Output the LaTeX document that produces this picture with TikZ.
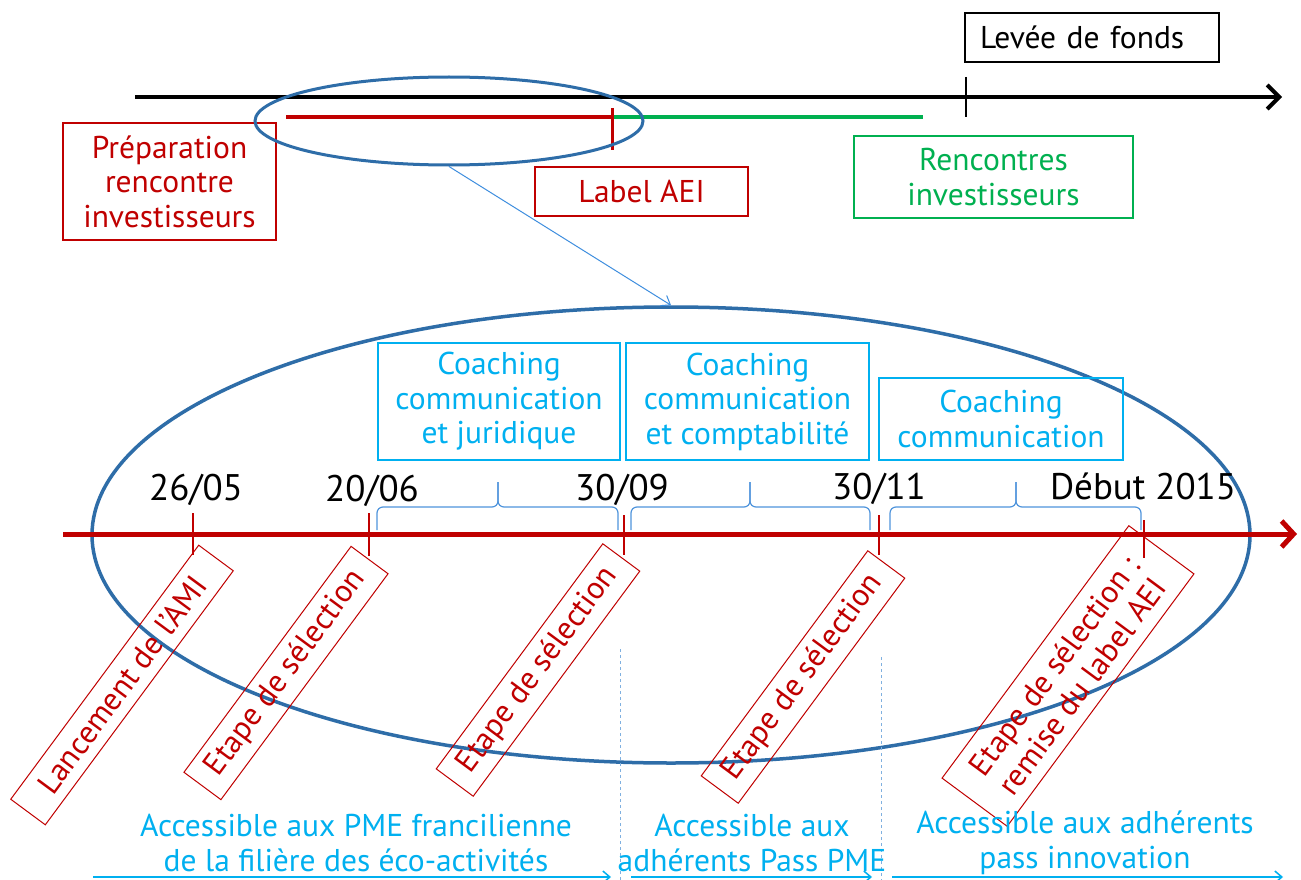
\documentclass[tikz,border=0pt]{standalone}
\usepackage{fontspec}
\setmainfont{PT Sans}
\usetikzlibrary{arrows.meta,shapes.geometric}
\definecolor{cred}{HTML}{C00000}
\definecolor{cgreen}{HTML}{00B050}
\definecolor{ccyan}{HTML}{00B0F0}
\definecolor{cblue}{HTML}{2E6DA8}
\definecolor{cbrace}{HTML}{4F94DC}
\definecolor{cpoint}{HTML}{3C8DDE}
\definecolor{cdash}{HTML}{7FB0E0}
\newcommand{\txtfont}{\fontsize{31.5}{34.5}\selectfont}
\newcommand{\datefont}{\fontsize{37}{40}\selectfont}
\newcommand{\mybrc}[3]{%
  \draw[bracestyle] (#1,530) |- (#2,507) -- (#2,482);
  \draw[bracestyle] (#3,530) |- (#2,507) -- (#2,482);}
\tikzset{
  boxred/.style={draw=cred, line width=1.2pt, text=cred, font=\txtfont, align=center, inner sep=0pt},
  boxgreen/.style={draw=cgreen, line width=1.2pt, text=cgreen, font=\txtfont, align=center, inner sep=0pt},
  boxcyan/.style={draw=ccyan, line width=1.2pt, text=ccyan, font=\txtfont, align=center, inner sep=0pt},
  rotbox/.style={draw=cred, line width=1pt, text=cred, font=\txtfont, align=center, inner sep=0pt, rotate=53.5},
  datelbl/.style={font=\datefont, anchor=base, inner sep=0pt},
  bottxt/.style={text=ccyan, font=\txtfont, align=center, inner sep=0pt},
  bracestyle/.style={draw=cbrace, line width=1.2pt, rounded corners=6pt},
  redtick/.style={draw=cred, line width=1.5pt},
  cyanarrow/.style={draw=ccyan, line width=1.5pt, -{Straight Barb[length=7pt,width=12pt,line width=1.5pt]}},
  dashline/.style={draw=cdash, line width=0.8pt, dashed},
  ell/.style={ellipse, draw=cblue, line width=3pt, inner sep=0pt}
}
\begin{document}
\begin{tikzpicture}[x=1pt,y=-1pt]
\useasboundingbox[fill=white] (0,0) rectangle (1301,880);

% ---------- top timeline ----------
\coordinate (bs) at (135,97);
\coordinate (be) at (1282,97);
\draw[line width=4pt, -{Straight Barb[length=12pt,width=24pt,line width=4pt]}] (bs) -- (be);
\coordinate (lt1) at (966,77);
\coordinate (lt2) at (966,117);
\draw[line width=1.5pt] (lt1) -- (lt2);

\node[draw=black, line width=1.5pt, font=\txtfont, text width=224pt, align=left,
      inner xsep=15pt, inner ysep=0pt, minimum height=49pt] (levee) at (1092,37.5) {Levée de fonds};

\coordinate (rs) at (286,117);
\coordinate (rm) at (612,117);
\coordinate (ge) at (923,117);
\draw[cred, line width=3.5pt] (rs) -- (rm);
\draw[cgreen, line width=3.5pt] (rm) -- (ge);
\coordinate (rt1) at (612,108);
\coordinate (rt2) at (612,150);
\draw[cred, line width=3pt] (rt1) -- (rt2);

\node[boxred, minimum width=213pt, minimum height=117pt] (prep) at (169.5,181.5) {Préparation\\rencontre\\investisseurs};
\node[boxred, minimum width=213pt, minimum height=49pt] (aei) at (641.5,191.5) {Label AEI};
\node[boxgreen, minimum width=279pt, minimum height=82pt] (renc) at (993.5,177) {Rencontres\\investisseurs};

\node[ell, minimum width=388pt, minimum height=88pt] (small) at (449,121) {};
\node[ell, line width=3.5pt, minimum width=1158pt, minimum height=456pt] (big) at (671,535) {};
\draw[cpoint, line width=1pt, -{Straight Barb[length=8pt,width=12pt,line width=1pt]}] (small.south) -- (big.north);

% ---------- coaching boxes ----------
\node[boxcyan, minimum width=242pt, minimum height=117pt] (c1) at (499,401.5) {Coaching\\communication\\et juridique};
\node[boxcyan, minimum width=243pt, minimum height=117pt] (c2) at (747.5,401.5) {Coaching\\communication\\et comptabilité};
\node[boxcyan, minimum width=244pt, minimum height=82pt] (c3) at (1001,419) {Coaching\\communication};

% ---------- braces ----------
\mybrc{377}{498}{618}
\mybrc{631}{750}{870}
\mybrc{890}{1016}{1141}

% ---------- main red axis ----------
\coordinate (as) at (63,534);
\coordinate (ae) at (1297,534);
\draw[cred, line width=5pt, -{Straight Barb[length=12pt,width=26pt,line width=5pt]}] (as) -- (ae);

\coordinate (t1a) at (193,513); \coordinate (t1b) at (193,555);
\coordinate (t2a) at (369,513); \coordinate (t2b) at (369,556);
\coordinate (t3a) at (624,515); \coordinate (t3b) at (624,555);
\coordinate (t4a) at (879,515); \coordinate (t4b) at (879,555);
\coordinate (t5a) at (1144,520); \coordinate (t5b) at (1144,558);
\draw[redtick] (t1a) -- (t1b);
\draw[redtick] (t2a) -- (t2b);
\draw[redtick] (t3a) -- (t3b);
\draw[redtick] (t4a) -- (t4b);
\draw[redtick] (t5a) -- (t5b);

\node[datelbl] (d1) at (196,500) {26/05};
\node[datelbl] (d2) at (372,501) {20/06};
\node[datelbl] (d3) at (622,500) {30/09};
\node[datelbl] (d4) at (879,499) {30/11};
\node[datelbl] (d5) at (1143,499) {Début 2015};

% ---------- rotated boxes ----------
\node[rotbox, minimum width=316pt, minimum height=43pt] (r1) at (122,685) {Lancement de l’AMI};
\node[rotbox, minimum width=281pt, minimum height=46pt] (r2) at (286,673) {Etape de sélection};
\node[rotbox, minimum width=280pt, minimum height=46pt] (r3) at (538,670) {Etape de sélection};
\node[rotbox, minimum width=280pt, minimum height=46pt] (r4) at (803,677) {Etape de sélection};
\node[rotbox, minimum width=314pt, minimum height=81pt] (r5) at (1068,676) {Etape de sélection :\\remise du label AEI};

% ---------- dashed separators ----------
\coordinate (s1a) at (620,649); \coordinate (s1b) at (620,880);
\coordinate (s2a) at (881,657); \coordinate (s2b) at (881,880);
\draw[dashline] (s1a) -- (s1b);
\draw[dashline] (s2a) -- (s2b);

% ---------- bottom texts ----------
\node[bottxt] (b1) at (356,843) {Accessible aux PME francilienne\\de la filière des éco-activités};
\node[bottxt] (b2) at (752,843) {Accessible aux\\adhérents Pass PME};
\node[bottxt] (b3) at (1085,843) {Accessible aux adhérents\\pass innovation};

\coordinate (a1s) at (93,877); \coordinate (a1e) at (611,877);
\coordinate (a2s) at (631,877); \coordinate (a2e) at (872,877);
\coordinate (a3s) at (892,877); \coordinate (a3e) at (1283,877);
\draw[cyanarrow] (a1s) -- (a1e);
\draw[cyanarrow] (a2s) -- (a2e);
\draw[cyanarrow] (a3s) -- (a3e);
\end{tikzpicture}
\end{document}
